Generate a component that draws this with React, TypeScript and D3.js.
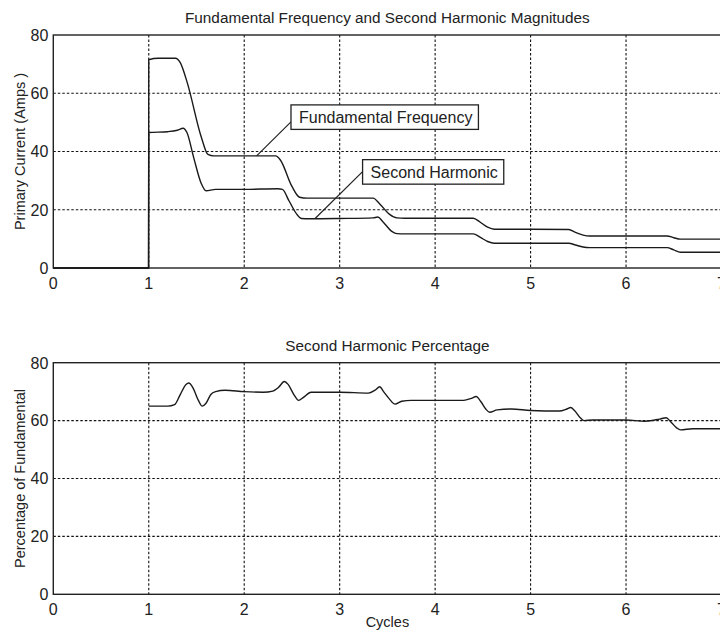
import React, { useRef, useEffect } from "react";
import * as d3 from "d3";

// cycles / amps
const fundCycles = [0, 0.998, 1.0, 1.1, 1.28, 1.33, 1.4, 1.55, 1.62, 1.68, 2.0, 2.33, 2.38, 2.5, 2.58, 2.66, 3.0, 3.35, 3.42, 3.52, 3.6, 3.68, 4.0, 4.4, 4.47, 4.55, 4.62, 5.0, 5.4, 5.47, 5.55, 5.62, 6.0, 6.43, 6.5, 6.57, 7.0];
const fundAmps = [0, 0, 71.5, 72, 72, 70.5, 64, 45, 39, 38.5, 38.5, 38.5, 37, 28, 24.3, 24, 24, 24, 22, 18.5, 17.2, 17.1, 17.1, 17.1, 15.8, 14, 13.3, 13.3, 13.2, 12.2, 11.3, 11.0, 11.0, 11.0, 10.4, 9.9, 9.9];

const harmCycles = [0, 0.998, 1.0, 1.2, 1.3, 1.36, 1.4, 1.47, 1.55, 1.6, 1.7, 2.0, 2.35, 2.4, 2.47, 2.55, 2.6, 2.68, 3.0, 3.35, 3.4, 3.45, 3.55, 3.6, 3.68, 4.0, 4.4, 4.47, 4.55, 4.62, 5.0, 5.4, 5.47, 5.55, 5.62, 6.0, 6.43, 6.5, 6.57, 7.0];
const harmAmps = [0, 0, 46.5, 46.8, 47.3, 48, 46.5, 38, 29, 26.5, 27, 27, 27.2, 27, 23, 18.5, 17, 16.9, 17, 17.2, 17.5, 16, 12.5, 11.8, 11.7, 11.7, 11.7, 10.6, 9.1, 8.5, 8.5, 8.5, 7.9, 7.2, 7.0, 7.0, 7.0, 6.2, 5.4, 5.4];

// second harmonic percentage (bottom plot)
const pctCycles = [1.0, 1.2, 1.27, 1.33, 1.39, 1.42, 1.46, 1.52, 1.56, 1.6, 1.65, 1.7, 1.8, 2.0, 2.2, 2.3, 2.36, 2.42, 2.46, 2.52, 2.57, 2.62, 2.7, 3.0, 3.3, 3.37, 3.42, 3.46, 3.52, 3.58, 3.65, 3.75, 4.0, 4.3, 4.38, 4.43, 4.48, 4.53, 4.57, 4.65, 4.8, 5.0, 5.3, 5.38, 5.42, 5.46, 5.52, 5.56, 5.65, 6.0, 6.2, 6.35, 6.42, 6.47, 6.53, 6.57, 6.7, 7.0];
const pctValues = [65, 65, 65.5, 69, 72.5, 73, 71.5, 67, 65, 66, 69, 70, 70.5, 70, 69.8, 70.2, 71.5, 73.5, 72.5, 69, 67, 68, 69.8, 69.8, 69.5, 70.5, 71.7, 70, 67.5, 65.7, 66.7, 67, 67, 67, 67.7, 68.3, 66.5, 64, 62.9, 63.7, 64, 63.5, 63.3, 64, 64.5, 63.5, 61, 60, 60.2, 60.2, 59.8, 60.5, 61, 59.5, 57.5, 56.8, 57.2, 57.2];

const xTicks = [0, 1, 2, 3, 4, 5, 6, 7];
const yTicks = [0, 20, 40, 60, 80];

const FONT = "'Liberation Sans', Arial, sans-serif";

const App = () => {
  const ref = useRef<SVGSVGElement | null>(null);

  useEffect(() => {
    const svg = d3.select(ref.current);
    svg.selectAll("*").remove();

    const x = d3.scaleLinear().domain([0, 7]).range([53.3, 721.5]);
    const yTop = d3.scaleLinear().domain([0, 80]).range([268, 35]);
    const yBot = d3.scaleLinear().domain([0, 80]).range([594.3, 362.7]);

    const drawPanel = (y: d3.ScaleLinear<number, number>, title: string, ylabel: string, xlabel?: string) => {
      const g = svg.append("g");
      const [y0, y1] = y.range();
      const [x0, x1] = x.range();

      // grid
      g.selectAll(".vg").data(xTicks.slice(1, -1)).join("line")
        .attr("x1", d => x(d)).attr("x2", d => x(d))
        .attr("y1", y1).attr("y2", y0)
        .attr("stroke", "#111").attr("stroke-width", 1.1).attr("stroke-dasharray", "2.5,2");
      g.selectAll(".hg").data(yTicks.slice(1, -1)).join("line")
        .attr("x1", x0).attr("x2", x1)
        .attr("y1", d => y(d)).attr("y2", d => y(d))
        .attr("stroke", "#111").attr("stroke-width", 1.1).attr("stroke-dasharray", "2.5,2");

      // box
      g.append("rect").attr("x", x0).attr("y", y1).attr("width", x1 - x0).attr("height", y0 - y1)
        .attr("fill", "none").attr("stroke", "#222").attr("stroke-width", 1.4);

      // ticks labels
      g.selectAll(".xt").data(xTicks).join("text")
        .attr("x", d => x(d)).attr("y", y0 + 20.5)
        .attr("text-anchor", "middle").attr("font-family", FONT).attr("font-size", 16)
        .attr("fill", "#222").text(d => d);
      g.selectAll(".yt").data(yTicks).join("text")
        .attr("x", x0 - 5).attr("y", d => y(d) + 5.8)
        .attr("text-anchor", "end").attr("font-family", FONT).attr("font-size", 16)
        .attr("fill", "#222").text(d => d);

      g.append("text").attr("x", (x0 + x1) / 2).attr("y", y1 - 12)
        .attr("text-anchor", "middle").attr("font-family", FONT).attr("font-size", 15.3)
        .attr("fill", "#222").text(title);

      g.append("text")
        .attr("transform", `translate(24.5, ${(y0 + y1) / 2}) rotate(-90)`)
        .attr("text-anchor", "middle").attr("font-family", FONT).attr("font-size", 14.5)
        .attr("fill", "#222").text(ylabel);

      if (xlabel) {
        g.append("text").attr("x", (x0 + x1) / 2).attr("y", y0 + 33)
          .attr("text-anchor", "middle").attr("font-family", FONT).attr("font-size", 14.5)
          .attr("fill", "#222").text(xlabel);
      }
      return g;
    };

    const gTop = drawPanel(yTop, "Fundamental Frequency and Second Harmonic Magnitudes", "Primary Current (Amps )");
    const gBot = drawPanel(yBot, "Second Harmonic Percentage", "Percentage of Fundamental", "Cycles");

    const lineOf = (y: d3.ScaleLinear<number, number>) =>
      d3.line<[number, number]>().x(d => x(d[0])).y(d => y(d[1])).curve(d3.curveMonotoneX);

    const fund = fundCycles.map((c, i) => [c, fundAmps[i]] as [number, number]);
    const harm = harmCycles.map((c, i) => [c, harmAmps[i]] as [number, number]);
    const pct = pctCycles.map((c, i) => [c, pctValues[i]] as [number, number]);

    [fund, harm].forEach(s => {
      gTop.append("path").attr("d", lineOf(yTop)(s)).attr("fill", "none")
        .attr("stroke", "#1a1a1a").attr("stroke-width", 1.4);
    });
    gBot.append("path").attr("d", lineOf(yBot)(pct)).attr("fill", "none")
      .attr("stroke", "#1a1a1a").attr("stroke-width", 1.4);

    // annotation boxes with leader lines
    const annotate = (label: string, boxX: number, boxY: number, anchor: [number, number], attachDy: number) => {
      const a = gTop.append("g");
      const t = a.append("text").attr("font-family", FONT).attr("font-size", 16).attr("fill", "#222")
        .attr("x", x(boxX) + 8).attr("y", yTop(boxY) + 18.5).text(label);
      const w = (t.node() as SVGTextElement).getComputedTextLength() + 14;
      a.insert("rect", "text").attr("x", x(boxX)).attr("y", yTop(boxY)).attr("width", w).attr("height", 24.5)
        .attr("fill", "white").attr("stroke", "#222").attr("stroke-width", 1.3);
      gTop.insert("line", "g:last-child")
        .attr("x1", x(boxX)).attr("y1", yTop(boxY) + attachDy)
        .attr("x2", x(anchor[0])).attr("y2", yTop(anchor[1]))
        .attr("stroke", "#222").attr("stroke-width", 1.2);
    };
    annotate("Fundamental Frequency", 2.49, 56, [2.13, 38.5], 17);
    annotate("Second Harmonic", 3.24, 37.2, [2.74, 16.9], 12);
  }, []);

  return (
    <svg ref={ref} width={720} height={635}
      style={{ position: "absolute", left: 0, top: 0, background: "white" }} />
  );
};

export default App;
